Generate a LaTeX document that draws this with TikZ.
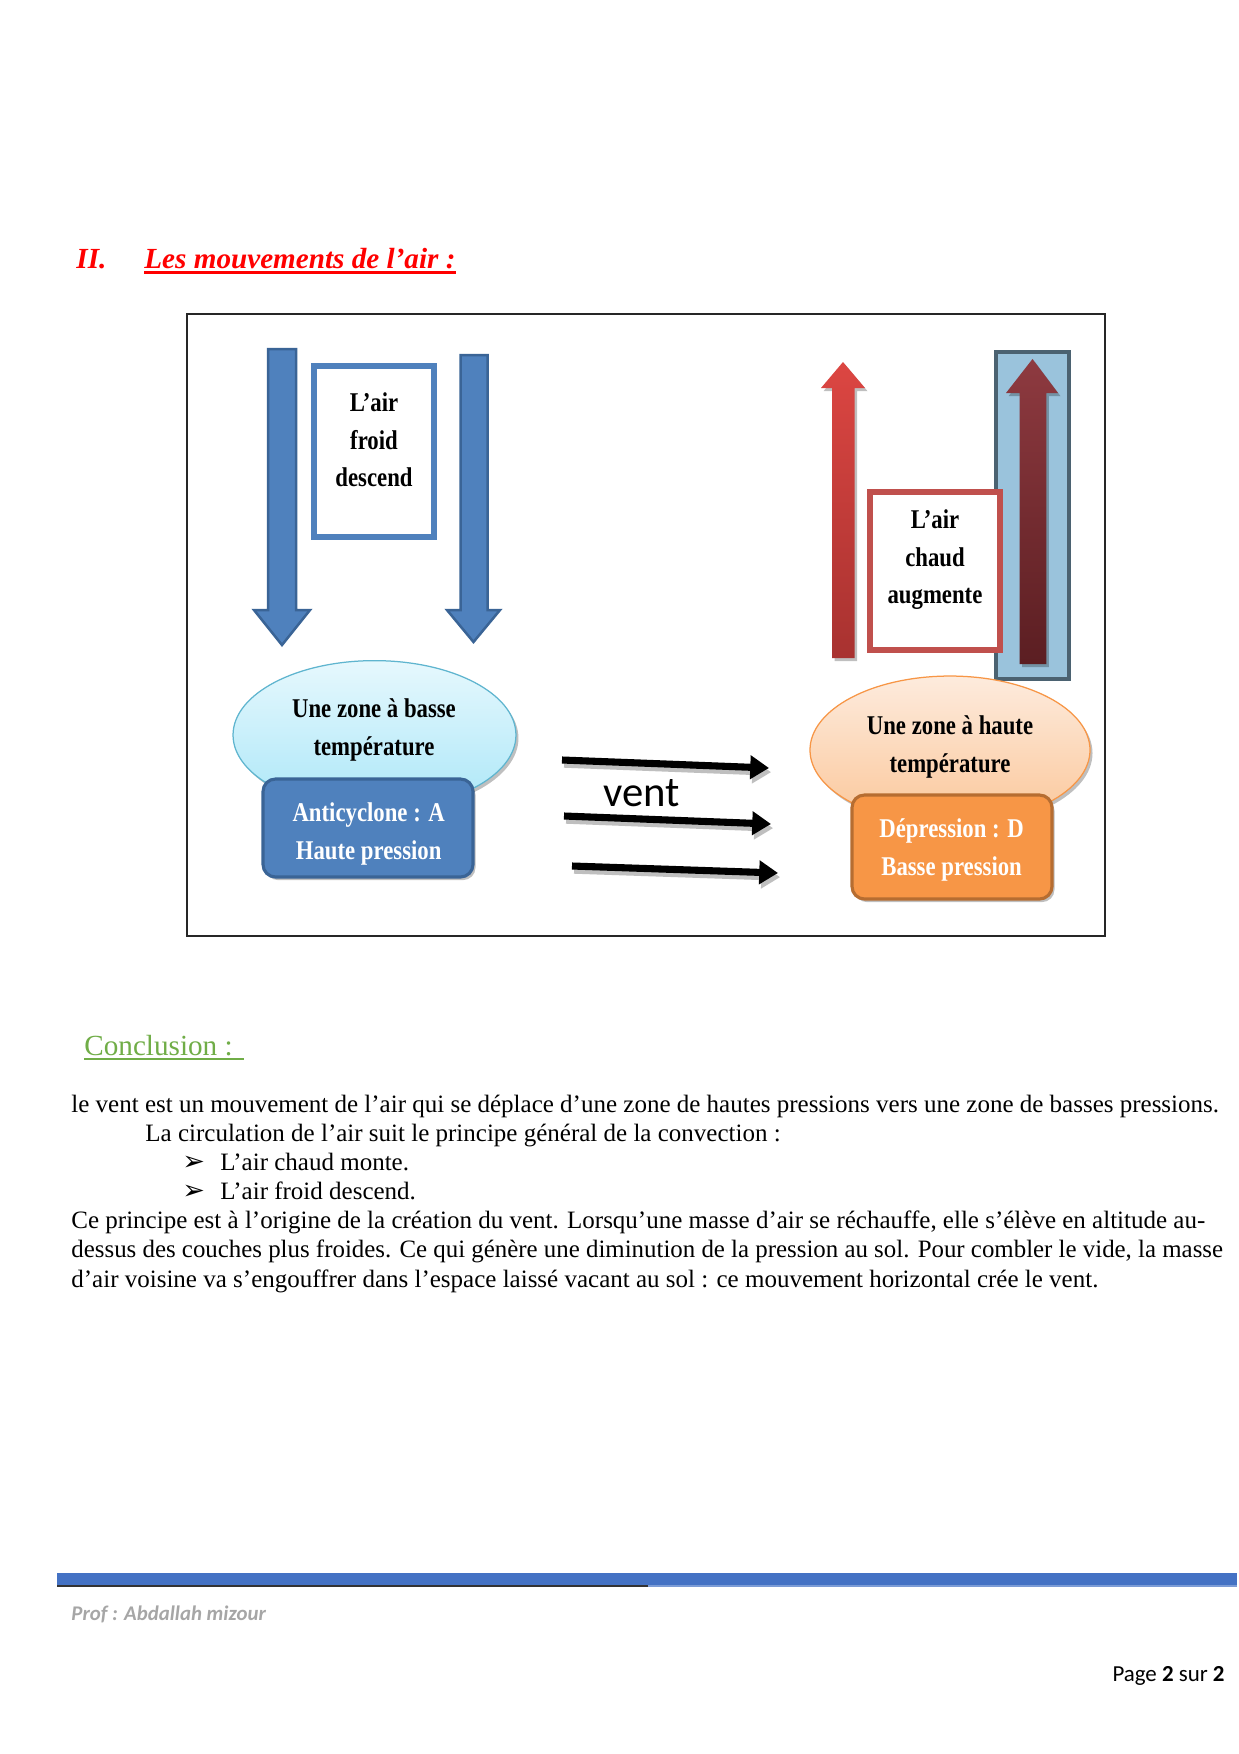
\documentclass[tikz,border=0pt]{standalone}
\usepackage{fontspec}
\setmainfont{Liberation Serif}
\newfontfamily\carlito{Carlito}
\newfontfamily\dejavu{DejaVu Sans}
\usepackage{graphicx}
\usetikzlibrary{arrows.meta,shadows}
\definecolor{arrowblue}{HTML}{4F81BD}
\definecolor{arrowblueedge}{HTML}{3A6496}
\definecolor{boxred}{HTML}{C0504D}
\definecolor{panelblue}{HTML}{9AC3DC}
\definecolor{paneledge}{HTML}{4B6271}
\definecolor{cyantop}{HTML}{E6F8FD}
\definecolor{cyanbot}{HTML}{ACE7F8}
\definecolor{cyanedge}{HTML}{5FB5CF}
\definecolor{peachtop}{HTML}{FDEBDD}
\definecolor{peachbot}{HTML}{FBC79A}
\definecolor{orangefill}{HTML}{F79646}
\definecolor{orangeedge}{HTML}{B66D31}
\definecolor{redtop}{HTML}{DC4642}
\definecolor{redbot}{HTML}{A83230}
\definecolor{darktop}{HTML}{8E3A40}
\definecolor{darkbot}{HTML}{5B1E22}
\definecolor{concgreen}{HTML}{70AD47}
\definecolor{footblue}{HTML}{4472C4}
\definecolor{footgray}{HTML}{A6A6A6}
\newcommand\cnd[1]{\scalebox{0.84}[1]{#1}}
\begin{document}
\begin{tikzpicture}[x=0.47998pt,y=-0.47998pt,
  dlabel/.style={font=\fontsize{13}{18}\selectfont\bfseries, align=center, inner sep=0pt},
  wlabel/.style={dlabel, text=white},
  bodyline/.style={font=\fontsize{12}{14}\selectfont, anchor=base west, inner sep=0pt},
  bulletmark/.style={font=\dejavu\fontsize{13}{14}\selectfont, anchor=base west, inner sep=0pt},
  softshadow/.style={drop shadow={shadow xshift=1.2pt,shadow yshift=-1.5pt,opacity=0.25,fill=black}},
  bluearrow/.style={fill=arrowblue, draw=arrowblueedge, line width=1.2pt, line join=miter},
  windarrow/.style={line width=3.4pt, -{Triangle[length=9pt,width=11pt]}},
  windshadow/.style={line width=3.4pt, draw=black!25, -{Triangle[length=9pt,width=11pt]}}
]
\useasboundingbox (0,0) rectangle (1239,1754);
\fill[white] (0,0) rectangle (1239,1754);

% ---------- title ----------
\node[anchor=base west, inner sep=0pt, font=\fontsize{14}{16}\selectfont\bfseries\itshape, text=red] (secnum) at (76,268) {II.};
\node[anchor=base west, inner sep=0pt, font=\fontsize{14}{16}\selectfont\bfseries\itshape, text=red] (sectitle) at (144,268) {Les mouvements de l’air :};
\draw[red, line width=1.3pt] ([yshift=-2.2pt]sectitle.base west) -- ([yshift=-2.2pt]sectitle.base east);

% ---------- frame ----------
\draw[black!85, line width=0.9pt] (187,314) rectangle (1105,936);

% ---------- cold air (left) ----------
\path[bluearrow] (268,349) -- (296,349) -- (296,610) -- (310,610) -- (282,645) -- (254,610) -- (268,610) -- cycle;
\path[bluearrow] (460.5,355) -- (487.5,355) -- (487.5,610) -- (500,610) -- (473.5,642) -- (447,610) -- (460.5,610) -- cycle;
\draw[arrowblue, line width=2.5pt, fill=white] (314,366) rectangle (434,537);
\node[dlabel] (coldtxt) at (374,440) {\cnd{L’air}\\\cnd{froid}\\\cnd{descend}};

% low temperature zone + anticyclone
\path[softshadow, top color=cyantop, bottom color=cyanbot, draw=cyanedge, line width=0.6pt] (374.5,735) ellipse [x radius=67.9pt, y radius=35.7pt];
\node[dlabel] (lowtemp) at (374,730) {\cnd{Une zone à basse}\\\cnd{température}};
\path[softshadow, fill=arrowblue, draw=arrowblueedge, line width=1.5pt, rounded corners=6pt] (263,779) rectangle (473,877);
\node[wlabel] (anticyc) at (368.7,834) {\cnd{Anticyclone : A}\\\cnd{Haute pression}};

% ---------- warm air (right) ----------
\path[softshadow, top color=redtop, bottom color=redbot] (832,658) -- (832,388) -- (821,388) -- (843,362) -- (865,388) -- (854.5,388) -- (854.5,658) -- cycle;
\draw[fill=panelblue, draw=paneledge, line width=2pt] (996,352) rectangle (1069,679);
\path[softshadow, top color=darktop, bottom color=darkbot] (1019.5,664) -- (1019.5,393) -- (1006,393) -- (1032.5,359) -- (1058,393) -- (1046.4,393) -- (1046.4,664) -- cycle;
\draw[boxred, line width=2.5pt, fill=white] (870,492) rectangle (1000,650);
\node[dlabel] (warmtxt) at (935,560) {\cnd{L’air}\\\cnd{chaud}\\\cnd{augmente}};

% high temperature zone + depression
\path[softshadow, top color=peachtop, bottom color=peachbot, draw=orangefill, line width=0.6pt] (950,750) ellipse [x radius=67.2pt, y radius=35.5pt];
\node[dlabel] (hightemp) at (950,747) {\cnd{Une zone à haute}\\\cnd{température}};
\path[softshadow, fill=orangefill, draw=orangeedge, line width=1.5pt, rounded corners=6pt] (852,795) rectangle (1052,899);
\node[wlabel] (depress) at (951.6,850) {\cnd{Dépression : D}\\\cnd{Basse pression}};

% ---------- wind ----------
\coordinate (w1s) at (562,760); \coordinate (w1e) at (769,768);
\coordinate (w2s) at (564,816); \coordinate (w2e) at (771,824);
\coordinate (w3s) at (572,866); \coordinate (w3e) at (778,873);
\draw[windshadow] ([xshift=1pt,yshift=-2pt]w1s) -- ([xshift=1pt,yshift=-2pt]w1e);
\draw[windshadow] ([xshift=1pt,yshift=-2pt]w2s) -- ([xshift=1pt,yshift=-2pt]w2e);
\draw[windshadow] ([xshift=1pt,yshift=-2pt]w3s) -- ([xshift=1pt,yshift=-2pt]w3e);
\draw[windarrow] (w1s) -- (w1e);
\draw[windarrow] (w2s) -- (w2e);
\draw[windarrow] (w3s) -- (w3e);
\node[font=\carlito\fontsize{20.5}{22}\selectfont, inner sep=0pt] (vent) at (642,793) {vent};

% ---------- conclusion ----------
\node[anchor=base west, inner sep=0pt, font=\fontsize{14}{16}\selectfont, text=concgreen] (conc) at (84,1055) {Conclusion :\hspace*{5pt}};
\draw[concgreen, line width=0.7pt] ([yshift=-2pt]conc.base west) -- ([yshift=-2pt]conc.base east);

\node[bodyline] (l1) at (71,1112) {le vent est un mouvement de l’air qui se déplace d’une zone de hautes pressions vers une zone de basses pressions.};
\node[bodyline] (l2) at (145,1141) {La circulation de l’air suit le principe général de la convection :};
\node[bulletmark] (b1) at (182,1170) {➢};
\node[bodyline] (l3) at (220,1170) {L’air chaud monte.};
\node[bulletmark] (b2) at (182,1199) {➢};
\node[bodyline] (l4) at (220,1199) {L’air froid descend.};
\node[bodyline] (l5) at (71,1228) {Ce principe est à l’origine de la création du vent. Lorsqu’une masse d’air se réchauffe, elle s’élève en altitude au-};
\node[bodyline] (l6) at (71,1257) {\scalebox{0.995}[1]{dessus des couches plus froides. Ce qui génère une diminution de la pression au sol. Pour combler le vide, la masse}};
\node[bodyline] (l7) at (71,1287) {d’air voisine va s’engouffrer dans l’espace laissé vacant au sol : ce mouvement horizontal crée le vent.};

% ---------- footer ----------
\fill[footblue] (57,1573) rectangle (1237,1585);
\draw[black!80, line width=0.6pt] (57,1586) -- (648,1586);
\draw[footblue!70, line width=0.6pt] (648,1586) -- (1237,1586);
\node[anchor=base west, inner sep=0pt, font=\carlito\bfseries\itshape\fontsize{10}{12}\selectfont, text=footgray] (prof) at (71,1620) {Prof : Abdallah mizour};
\node[anchor=base east, inner sep=0pt, font=\carlito\fontsize{11}{13}\selectfont] (page) at (1225,1681) {Page \textbf{2} sur \textbf{2}};
\end{tikzpicture}
\end{document}
